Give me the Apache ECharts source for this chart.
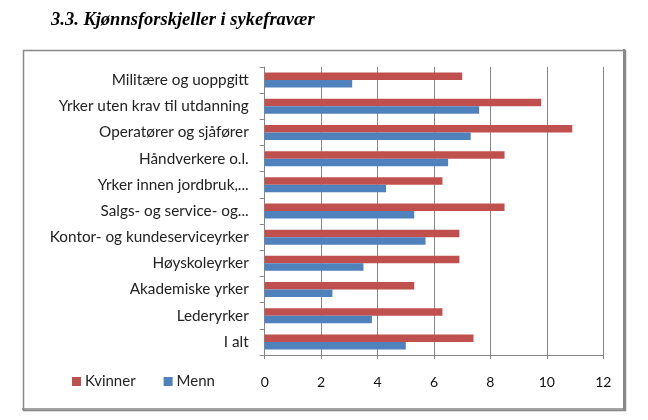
<!DOCTYPE html>
<html>
<head>
<meta charset="utf-8">
<script src="https://cdn.jsdelivr.net/npm/echarts@6/dist/echarts.min.js"></script>
<style>html,body{margin:0;padding:0;background:#fff;}#c{width:648px;height:420px;}</style>
</head>
<body>
<div id="c"></div>
<script>
// Categories, top to bottom
var categories = [
  "Militære og uoppgitt",
  "Yrker uten krav til utdanning",
  "Operatører og sjåfører",
  "Håndverkere o.l.",
  "Yrker innen jordbruk,...",
  "Salgs- og service- og...",
  "Kontor- og kundeserviceyrker",
  "Høyskoleyrker",
  "Akademiske yrker",
  "Lederyrker",
  "I alt"
];
var kvinner = [7.0, 9.8, 10.9, 8.5, 6.3, 8.5, 6.9, 6.9, 5.3, 6.3, 7.4];
var menn    = [3.1, 7.6, 7.3, 6.5, 4.3, 5.3, 5.7, 3.5, 2.4, 3.8, 5.0];
var xTicks = [0, 2, 4, 6, 8, 10, 12];

var chart = echarts.init(document.getElementById('c'), null, {renderer: 'canvas'});
var labelFont = 'Lato';
chart.setOption({
  animation: false,
  backgroundColor: '#fff',
  title: {
    left: 46, top: 6,
    text: '{a|3.3. }{b|Kjønnsforskjeller i sykefravær}',
    textStyle: {
      rich: {
        a: {fontFamily: 'Liberation Serif', fontStyle: 'italic', fontSize: 18.5, color: '#000'},
        b: {fontFamily: 'Liberation Serif', fontStyle: 'italic', fontWeight: 'bold', fontSize: 18.5, color: '#000'}
      }
    }
  },
  graphic: [
    {type: 'rect', left: 21, top: 48, shape: {width: 602, height: 360},
     style: {fill: 'none', stroke: '#888', lineWidth: 1.5}},
    {type: 'line', shape: {x1: 624, y1: 49, x2: 624, y2: 409.5},
     style: {stroke: '#888', lineWidth: 2}},
    {type: 'line', shape: {x1: 22, y1: 409, x2: 625, y2: 409},
     style: {stroke: '#888', lineWidth: 1.5}}
  ],
  legend: {
    left: 67, top: 369,
    icon: 'rect', itemWidth: 9, itemHeight: 9, itemGap: 28,
    textStyle: {fontFamily: labelFont, fontSize: 15, color: '#222', padding: [0,0,0,-1]},
    data: ['Kvinner', 'Menn']
  },
  grid: {left: 264.7, right: 44.7, top: 67, bottom: 65, containLabel: false},
  xAxis: {
    type: 'value', min: 0, max: 12, interval: 2,
    axisLine: {show: true, lineStyle: {color: '#868686', width: 1}},
    axisTick: {show: true, length: 4, lineStyle: {color: '#868686'}},
    axisLabel: {
      margin: 20, fontFamily: labelFont, fontSize: 14, color: '#111',
      formatter: function (v) { return xTicks.indexOf(v) >= 0 ? String(v) : ''; }
    },
    splitLine: {show: true, lineStyle: {color: '#868686', width: 1}}
  },
  yAxis: {
    type: 'category', inverse: true, data: categories,
    axisLine: {show: true, lineStyle: {color: '#868686', width: 1}},
    axisTick: {show: true, length: 5, lineStyle: {color: '#868686'}},
    axisLabel: {margin: 16, fontFamily: labelFont, fontSize: 15.3, color: '#222'}
  },
  series: [
    {name: 'Kvinner', type: 'bar', data: kvinner, barWidth: 7.5, barGap: '0%',
     itemStyle: {color: '#C0504D'}},
    {name: 'Menn', type: 'bar', data: menn, barWidth: 7.5, barGap: '0%',
     itemStyle: {color: '#4F81BD'}}
  ]
});
</script>
</body>
</html>
